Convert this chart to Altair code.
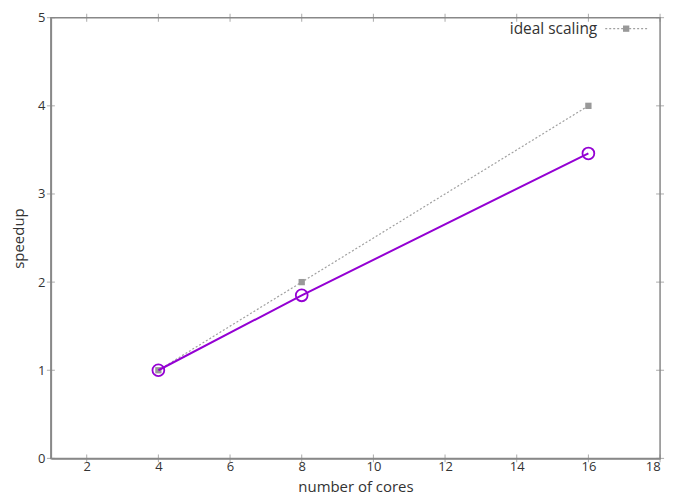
import altair as alt
import pandas as pd

cores = [4, 8, 16]
speedup = [1.0, 1.85, 3.46]
ideal = [1.0, 2.0, 4.0]
x_ticks = [2, 4, 6, 8, 10, 12, 14, 16, 18]
y_ticks = [0, 1, 2, 3, 4, 5]

df = pd.DataFrame({"cores": cores, "speedup": speedup, "ideal": ideal})
xt = pd.DataFrame({"v": x_ticks})
yt = pd.DataFrame({"v": y_ticks})

FONT = "Open Sans"
PURPLE = "#9400d3"
GREY = "#a0a0a0"
W, H = 611, 442

xs = alt.Scale(domain=[1, 18], nice=False, zero=False)
ys = alt.Scale(domain=[0, 5], nice=False)

xaxis = alt.Axis(values=x_ticks, format="d", title="number of cores", grid=False, ticks=False,
                 labelPadding=2, titlePadding=6)
yaxis = alt.Axis(values=y_ticks, format="d", title="speedup", grid=False, ticks=False,
                 labelPadding=6, titlePadding=11)

base = alt.Chart(df)

ideal_line = base.mark_line(color=GREY, strokeDash=[2, 2], strokeWidth=1.2).encode(
    x=alt.X("cores:Q", scale=xs, axis=xaxis),
    y=alt.Y("ideal:Q", scale=ys, axis=yaxis),
)
ideal_pts = base.mark_point(shape="square", filled=True, color="#999999", size=40, opacity=1).encode(
    x=alt.X("cores:Q", scale=xs), y=alt.Y("ideal:Q", scale=ys)
)
sp_line = base.mark_line(color=PURPLE, strokeWidth=2).encode(
    x=alt.X("cores:Q", scale=xs), y=alt.Y("speedup:Q", scale=ys)
)
sp_pts = base.mark_point(shape="circle", filled=False, color=PURPLE, size=140, strokeWidth=1.8, opacity=1).encode(
    x=alt.X("cores:Q", scale=xs), y=alt.Y("speedup:Q", scale=ys)
)

# inward tick marks (bottom/top, left/right)
xt_b = alt.Chart(xt).mark_tick(color="#888888", thickness=1, size=8).encode(
    x=alt.X("v:Q", scale=xs), y=alt.value(H))
xt_t = alt.Chart(xt).mark_tick(color="#888888", thickness=1, size=8).encode(
    x=alt.X("v:Q", scale=xs), y=alt.value(0))
yt_l = alt.Chart(yt).mark_tick(color="#888888", thickness=1, size=8).encode(
    y=alt.Y("v:Q", scale=ys), x=alt.value(0))
yt_r = alt.Chart(yt).mark_tick(color="#888888", thickness=1, size=8).encode(
    y=alt.Y("v:Q", scale=ys), x=alt.value(W))

leg_df = pd.DataFrame({"label": ["ideal scaling"]})
leg_text = alt.Chart(leg_df).mark_text(align="right", baseline="middle", font=FONT, fontSize=15.5, color="#333333").encode(
    text="label:N", x=alt.value(548), y=alt.value(11))
leg_line = alt.Chart(leg_df).mark_rule(color=GREY, strokeDash=[2, 2], strokeWidth=1.2).encode(
    x=alt.value(556), x2=alt.value(599), y=alt.value(11))
leg_pt = alt.Chart(leg_df).mark_point(shape="square", filled=True, color="#999999", size=40, opacity=1).encode(
    x=alt.value(577), y=alt.value(11))

chart = alt.layer(
    xt_b, xt_t, yt_l, yt_r,
    ideal_line, ideal_pts, sp_line, sp_pts,
    leg_line, leg_pt, leg_text,
).properties(
    width=W, height=H,
    padding={"left": 3, "top": 3, "right": 18, "bottom": 0},
).configure_view(
    stroke="#888888", strokeWidth=1.5
).configure_axis(
    domainColor="#888888", domainWidth=1.5,
    labelFont=FONT, labelFontSize=13, labelColor="#333333",
    titleFont=FONT, titleFontSize=15, titleColor="#333333", titleFontWeight="normal",
)

chart.save("out.html", embed_options={"renderer": "svg", "actions": False})
